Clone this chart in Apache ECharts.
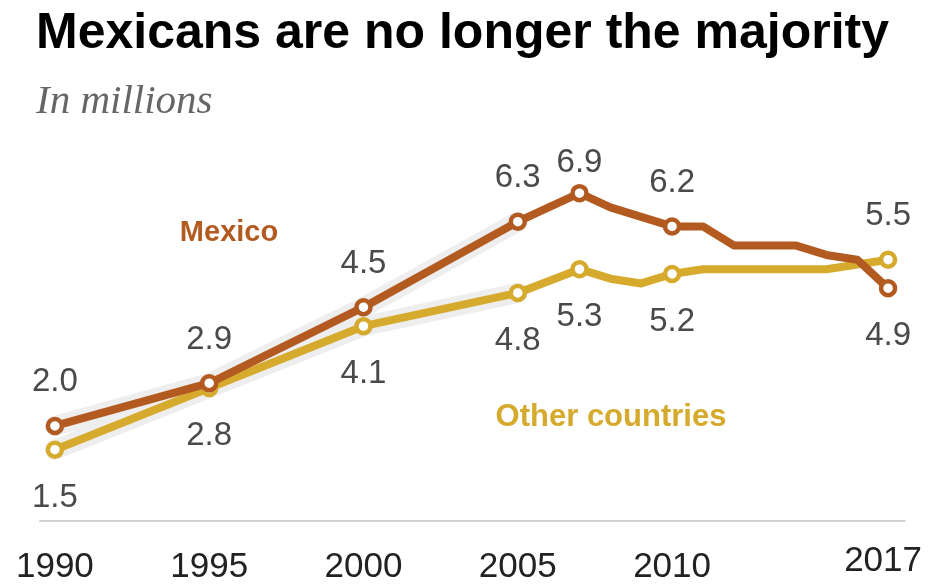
<!DOCTYPE html>
<html><head><meta charset="utf-8">
<script src="https://cdn.jsdelivr.net/npm/echarts@6/dist/echarts.min.js"></script>
<style>html,body{margin:0;padding:0;background:#fff}#c{width:935px;height:585px}</style>
</head><body><div id="c"></div>
<script>
// ---- data ----
const years  = [1990, 1995, 2000, 2005, 2007, 2008, 2009, 2010, 2011, 2012, 2013, 2014, 2015, 2016, 2017];
const mexico = [2.0, 2.9, 4.5, 6.3, 6.9, 6.6, 6.4, 6.2, 6.2, 5.8, 5.8, 5.8, 5.6, 5.5, 4.9];
const other  = [1.5, 2.8, 4.1, 4.8, 5.3, 5.1, 5.0, 5.2, 5.3, 5.3, 5.3, 5.3, 5.3, 5.4, 5.5];
const labeledYears = [1990, 1995, 2000, 2005, 2007, 2010, 2017];
const tickYears = [1990, 1995, 2000, 2005, 2010, 2017];
const haloYears = [1990, 1995, 2000, 2005];

// ---- style ----
const MEX = '#b35a21', OTH = '#d6aa2c';
const LABEL_FONT = 'Liberation Sans';

function buildData(vals, labelBelowYears, closeYears) {
  return years.map((yr, i) => {
    const item = { value: [yr, vals[i]] };
    if (labeledYears.indexOf(yr) >= 0) {
      const below = labelBelowYears.indexOf(yr) >= 0;
      item.symbol = 'circle';
      item.label = {
        show: true,
        position: below ? 'bottom' : 'top',
        distance: closeYears.indexOf(yr) >= 0 ? 5 : (below ? 22 : 18)
      };
    } else {
      item.symbol = 'none';
    }
    return item;
  });
}
const haloData = vals => years.map((yr, i) => [yr, vals[i]]).filter(d => haloYears.indexOf(d[0]) >= 0);

const mexData = buildData(mexico, [2017], [2007]);
const othData = buildData(other, years.filter(y => y !== 2017), []);

const lineSeries = (name, data, color, z) => ({
  name, type: 'line', data, color, z,
  symbolSize: 14,
  showSymbol: true,
  lineStyle: { color, width: 8, join: 'round', cap: 'round' },
  itemStyle: { color: '#fff', borderColor: color, borderWidth: 4.5 },
  label: {
    show: false,
    formatter: p => p.value[1].toFixed(1),
    fontFamily: LABEL_FONT, fontSize: 33, color: '#4a4a4a'
  },
  emphasis: { disabled: true },
  silent: true
});
const haloSeries = (name, vals) => ({
  name, type: 'line', data: haloData(vals), z: 1, symbol: 'none', silent: true,
  lineStyle: { color: '#eeeeee', width: 20, join: 'round', cap: 'round' },
  emphasis: { disabled: true }
});

const chart = echarts.init(document.getElementById('c'), null, { renderer: 'canvas' });
chart.setOption({
  animation: false,
  backgroundColor: '#fff',
  title: [
    { text: 'Mexicans are no longer the majority', left: 31, top: 4,
      textStyle: { fontFamily: LABEL_FONT, fontWeight: 'bold', fontSize: 50, color: '#000' } },
    { text: 'In millions', left: 31, top: 77,
      textStyle: { fontFamily: 'Liberation Serif', fontStyle: 'italic', fontWeight: 'normal', fontSize: 41, color: '#666' } }
  ],
  grid: { left: 40, right: 25, top: 139, bottom: 60 },
  xAxis: {
    type: 'value', min: 1989.517, max: 2017.545,
    axisLine: { show: true, lineStyle: { color: '#d0d0d0', width: 2 } },
    axisTick: { show: false },
    splitLine: { show: false },
    axisLabel: {
      customValues: tickYears,
      margin: 29,
      formatter: v => v === 2017 ? '{r|' + v + '}' : '{n|' + v + '}',
      rich: {
        n: { fontFamily: LABEL_FONT, fontSize: 35, color: '#222', lineHeight: 35 },
        r: { fontFamily: LABEL_FONT, fontSize: 35, color: '#222', lineHeight: 23, padding: [0, 10, 0, 0] }
      }
    }
  },
  yAxis: { type: 'value', min: 0, max: 8.04, show: false, splitLine: { show: false } },
  series: [
    haloSeries('haloOther', other),
    haloSeries('haloMexico', mexico),
    lineSeries('Other countries', othData, OTH, 3),
    lineSeries('Mexico', mexData, MEX, 4)
  ],
  graphic: [
    { type: 'text', x: 229, y: 233, silent: true,
      style: { text: 'Mexico', fill: MEX, font: 'bold 29px "Liberation Sans"', align: 'center', verticalAlign: 'middle' } },
    { type: 'text', x: 611, y: 417, silent: true,
      style: { text: 'Other countries', fill: OTH, font: 'bold 31px "Liberation Sans"', align: 'center', verticalAlign: 'middle' } }
  ]
});
</script>
</body></html>
